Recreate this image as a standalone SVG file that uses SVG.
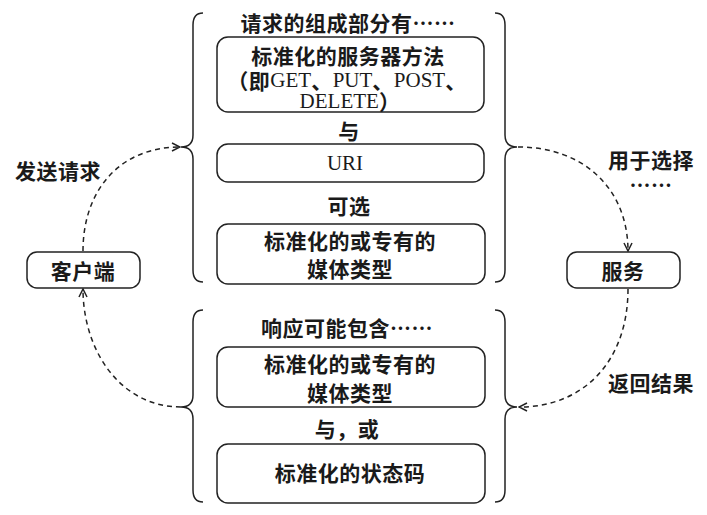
<svg xmlns="http://www.w3.org/2000/svg" width="707" height="515" viewBox="0 0 707 515">
<style>
.box{fill:#fff;stroke:#222;stroke-width:1.5}
.brace{fill:none;stroke:#222;stroke-width:1.5}
.conn{fill:none;stroke:#222;stroke-width:1.5;stroke-dasharray:5 4}
text{font-family:"Noto Sans CJK SC","Noto Sans",sans-serif;font-weight:bold;font-size:21px;letter-spacing:0.5px;fill:#1a1a1a;text-anchor:middle;dominant-baseline:central}
.lat{font-family:"Liberation Serif","Noto Sans CJK SC",serif;font-weight:normal;font-size:21px;letter-spacing:0}
</style>
<defs>
<marker id="arr" viewBox="0 0 10 10" refX="9" refY="5" markerWidth="10" markerHeight="10" markerUnits="userSpaceOnUse" orient="auto">
<path d="M1,1 L9,5 L1,9" fill="none" stroke="#222" stroke-width="1.5"/>
</marker>
</defs>
<rect width="707" height="515" fill="#fff"/>

<g id="request">
<path class="brace" d="M203,13 Q193,13 193,25 L193,135 Q193,147 181,147 Q193,147 193,159 L193,270 Q193,282 203,282"/>
<path class="brace" d="M495,13 Q505,13 505,25 L505,135 Q505,147 517,147 Q505,147 505,159 L505,270 Q505,282 495,282"/>
<text x="348" y="22">请求的组成部分有……</text>
<g id="methods">
<rect class="box" x="217" y="37" width="267" height="75" rx="11"/>
<text x="348" y="55">标准化的服务器方法</text>
<text x="347" y="80">（即<tspan class="lat">GET</tspan>、<tspan class="lat">PUT</tspan>、<tspan class="lat">POST</tspan>、</text>
<text x="350" y="101"><tspan class="lat">DELETE</tspan>）</text>
</g>
<text x="349" y="130">与</text>
<g id="uri">
<rect class="box" x="217" y="144" width="267" height="38" rx="11"/>
<text class="lat" x="345" y="163">URI</text>
</g>
<text x="349" y="205">可选</text>
<g id="media-req">
<rect class="box" x="217" y="224" width="268" height="60" rx="11"/>
<text x="350" y="240">标准化的或专有的</text>
<text x="350" y="268">媒体类型</text>
</g>
</g>

<g id="response">
<path class="brace" d="M203,310 Q193,310 193,322 L193,395 Q193,407 181,407 Q193,407 193,419 L193,490 Q193,502 203,502"/>
<path class="brace" d="M495,310 Q505,310 505,322 L505,395 Q505,407 517,407 Q505,407 505,419 L505,490 Q505,502 495,502"/>
<text x="347" y="327">响应可能包含……</text>
<g id="media-resp">
<rect class="box" x="217" y="347" width="268" height="60" rx="11"/>
<text x="350" y="363">标准化的或专有的</text>
<text x="350" y="392">媒体类型</text>
</g>
<text x="347" y="428">与，或</text>
<g id="status">
<rect class="box" x="217" y="444" width="268" height="59" rx="11"/>
<text x="350" y="472">标准化的状态码</text>
</g>
</g>

<g id="client">
<rect class="box" x="27" y="252" width="113" height="36" rx="10"/>
<text x="83" y="270">客户端</text>
</g>
<g id="server">
<rect class="box" x="567" y="252" width="113" height="36" rx="10"/>
<text x="623" y="270">服务</text>
</g>

<g id="connectors">
<path class="conn" d="M83,251 C83,190 120,147 180,147" marker-end="url(#arr)"/>
<path class="conn" d="M518,147 C585,147 628,190 628,251" marker-end="url(#arr)"/>
<path class="conn" d="M628,289 C628,360 585,407 519,407" marker-end="url(#arr)"/>
<path class="conn" d="M181,407 C120,407 83,350 83,289" marker-end="url(#arr)"/>
</g>

<g id="labels">
<text x="58" y="170">发送请求</text>
<text x="651" y="159">用于选择</text>
<text x="651" y="184">……</text>
<text x="651" y="382">返回结果</text>
</g>
</svg>
